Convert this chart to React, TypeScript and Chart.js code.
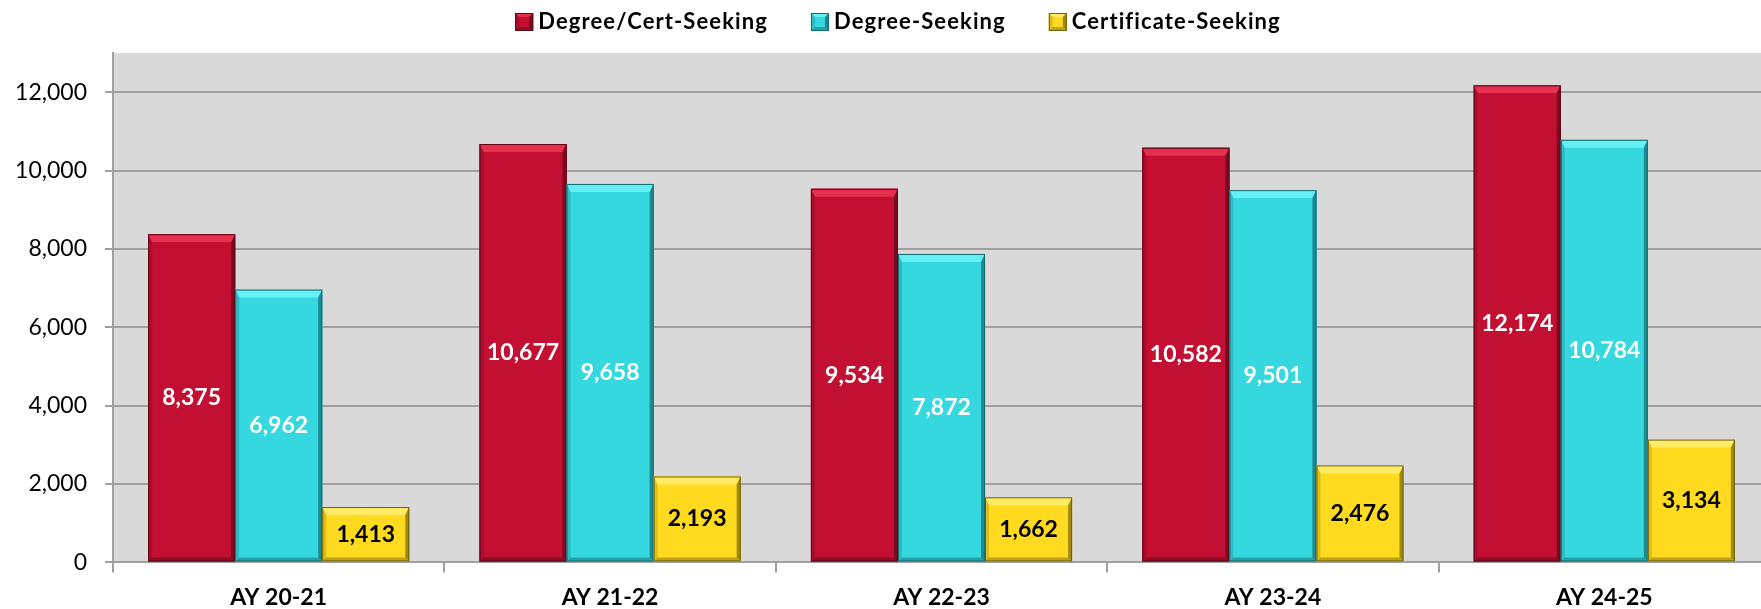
import React, { useEffect, useRef } from 'react';
import { Chart, registerables } from 'chart.js';

Chart.register(...registerables);

const categories = ['AY 20-21', 'AY 21-22', 'AY 22-23', 'AY 23-24', 'AY 24-25'];
const seriesNames = ['Degree/Cert-Seeking', 'Degree-Seeking', 'Certificate-Seeking'];
const degreeCertSeeking = [8375, 10677, 9534, 10582, 12174];
const degreeSeeking = [6962, 9658, 7872, 9501, 10784];
const certificateSeeking = [1413, 2193, 1662, 2476, 3134];
const yTickValues = [0, 2000, 4000, 6000, 8000, 10000, 12000];
const yAxisMin = 0;
const yAxisMax = 13000;

const FONT = 'Lato, "Noto Sans", sans-serif';

const palette = [
  { main: '#C30F32', light: '#E5304F', dark: '#7A0A1F', edge: '#5E0717', label: '#FFFFFF' },
  { main: '#36D8E0', light: '#66F0F5', dark: '#1C8A90', edge: '#146B70', label: '#FFFFFF' },
  { main: '#FFDA1F', light: '#FFEB66', dark: '#A08A10', edge: '#6F600A', label: '#000000' },
];

function drawBevelBox(ctx: any, left: number, top: number, right: number, bottom: number, c: any, bt: number, bs: number) {
  ctx.save();
  ctx.fillStyle = c.main;
  ctx.fillRect(left, top, right - left, bottom - top);
  ctx.fillStyle = c.light;
  ctx.beginPath();
  ctx.moveTo(left, top);
  ctx.lineTo(right, top);
  ctx.lineTo(right - bs, top + bt);
  ctx.lineTo(left + bs, top + bt);
  ctx.closePath();
  ctx.fill();
  ctx.fillStyle = c.dark;
  ctx.beginPath();
  ctx.moveTo(right, top);
  ctx.lineTo(right, bottom);
  ctx.lineTo(right - bs, bottom - bs);
  ctx.lineTo(right - bs, top + bt);
  ctx.closePath();
  ctx.fill();
  ctx.globalAlpha = 0.7;
  ctx.beginPath();
  ctx.moveTo(left, bottom);
  ctx.lineTo(right, bottom);
  ctx.lineTo(right - bs, bottom - bs);
  ctx.lineTo(left + bs, bottom - bs);
  ctx.closePath();
  ctx.fill();
  ctx.globalAlpha = 0.35;
  ctx.beginPath();
  ctx.moveTo(left, top);
  ctx.lineTo(left + bs, top + bt);
  ctx.lineTo(left + bs, bottom - bs);
  ctx.lineTo(left, bottom);
  ctx.closePath();
  ctx.fill();
  ctx.globalAlpha = 1;
  ctx.strokeStyle = c.edge;
  ctx.lineWidth = 1;
  ctx.strokeRect(left + 0.5, top + 0.5, right - left - 1, bottom - top - 1);
  ctx.restore();
}

const plotBackground = {
  id: 'plotBackground',
  beforeDraw(chart: any) {
    const { ctx, chartArea } = chart;
    ctx.save();
    ctx.fillStyle = '#D9D9D9';
    ctx.fillRect(chartArea.left, chartArea.top, chart.width - chartArea.left, chartArea.bottom - chartArea.top);
    ctx.restore();
  },
};

const customLegend = {
  id: 'customLegend',
  afterDraw(chart: any) {
    const { ctx } = chart;
    const box = 18;
    const boxGap = 5;
    const itemGap = 43;
    ctx.save();
    ctx.font = `bold 22px ${FONT}`;
    try {
      ctx.letterSpacing = '1.1px';
    } catch (e) {
      /* ignore */
    }
    ctx.textBaseline = 'alphabetic';
    ctx.textAlign = 'left';
    const widths = chart.data.datasets.map((ds: any) => ctx.measureText(ds.label).width);
    const total = widths.reduce((a: number, w: number) => a + box + boxGap + w, 0) + itemGap * (widths.length - 1);
    let x = chart.width / 2 + 13 - total / 2;
    chart.data.datasets.forEach((ds: any, i: number) => {
      drawBevelBox(ctx, x, 13, x + box, 13 + box, palette[i], 4, 4);
      ctx.fillStyle = '#000000';
      ctx.fillText(ds.label, x + box + boxGap, 28.5);
      x += box + boxGap + widths[i] + itemGap;
    });
    ctx.restore();
  },
};

const bevelBars = {
  id: 'bevelBars',
  afterDatasetsDraw(chart: any) {
    const { ctx } = chart;
    chart.data.datasets.forEach((ds: any, di: number) => {
      const meta = chart.getDatasetMeta(di);
      meta.data.forEach((bar: any) => {
        const p = bar.getProps(['x', 'y', 'base', 'width'], true);
        const left = p.x - p.width / 2;
        const right = p.x + p.width / 2;
        const top = Math.min(p.y, p.base);
        const bottom = Math.max(p.y, p.base);
        const bt = Math.min(8, (bottom - top) / 3);
        drawBevelBox(ctx, left, top, right, bottom, palette[di], bt, 4);
      });
    });
  },
};

const valueLabels = {
  id: 'valueLabels',
  afterDatasetsDraw(chart: any) {
    const { ctx } = chart;
    ctx.save();
    ctx.font = `bold 23px ${FONT}`;
    ctx.textAlign = 'center';
    ctx.textBaseline = 'middle';
    chart.data.datasets.forEach((ds: any, di: number) => {
      const meta = chart.getDatasetMeta(di);
      ctx.fillStyle = palette[di].label;
      meta.data.forEach((bar: any, i: number) => {
        const p = bar.getProps(['x', 'y', 'base'], true);
        const v = ds.data[i] as number;
        ctx.fillText(v.toLocaleString('en-US'), p.x, (p.y + p.base) / 2);
      });
    });
    ctx.restore();
  },
};

export default function App() {
  const canvasRef = useRef<HTMLCanvasElement | null>(null);

  useEffect(() => {
    if (!canvasRef.current) return;
    const series = [degreeCertSeeking, degreeSeeking, certificateSeeking];
    const chart = new Chart(canvasRef.current, {
      type: 'bar',
      data: {
        labels: categories,
        datasets: series.map((data, i) => ({
          label: seriesNames[i],
          data,
          backgroundColor: palette[i].main,
          borderWidth: 0,
          categoryPercentage: 0.788,
          barPercentage: 1,
        })),
      },
      options: {
        animation: false,
        responsive: false,
        maintainAspectRatio: false,
        layout: { padding: { left: 0, right: 0, top: 53, bottom: 0 } },
        plugins: {
          legend: { display: false },
          tooltip: { enabled: false },
        },
        scales: {
          x: {
            grid: {
              display: true,
              drawOnChartArea: false,
              drawTicks: true,
              tickLength: 10,
              color: '#A0A0A0',
              lineWidth: 2,
            },
            border: { display: true, color: '#A0A0A0', width: 2 },
            ticks: {
              color: '#000000',
              font: { family: FONT, size: 23, weight: 'bold' },
              padding: 11,
            },
          },
          y: {
            min: yAxisMin,
            max: yAxisMax,
            afterBuildTicks: (axis: any) => {
              axis.ticks = yTickValues.map((v) => ({ value: v }));
            },
            afterFit: (scale: any) => {
              scale.width = 113;
            },
            grid: {
              color: '#A0A0A0',
              lineWidth: 2,
              tickLength: 8,
              drawTicks: true,
            },
            border: { display: true, color: '#A0A0A0', width: 2 },
            ticks: {
              autoSkip: false,
              color: '#000000',
              padding: 18,
              font: { family: FONT, size: 23, weight: 'normal' },
              callback: (v: any) => Number(v).toLocaleString('en-US'),
            },
          },
        },
      },
      plugins: [plotBackground, bevelBars, valueLabels, customLegend],
    } as any);
    return () => chart.destroy();
  }, []);

  return (
    <div
      style={{
        position: 'fixed',
        left: 0,
        top: 0,
        width: 1761,
        height: 609,
        overflow: 'hidden',
        background: '#FFFFFF',
      }}
    >
      <canvas ref={canvasRef} width={1770} height={622} style={{ display: 'block', width: 1770, height: 622 }} />
    </div>
  );
}
